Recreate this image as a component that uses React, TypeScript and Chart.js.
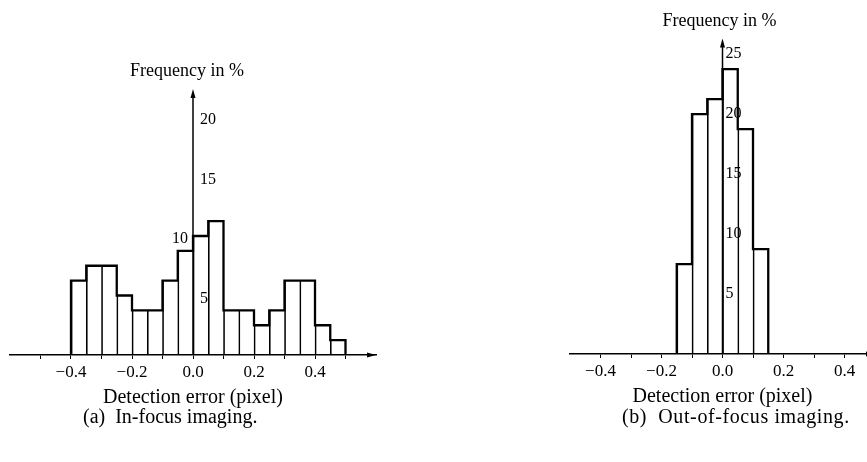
import React, { useEffect, useRef } from 'react';
import { Chart, registerables } from 'chart.js';

Chart.register(...registerables);

// ---------- data ----------
const BIN_WIDTH = 0.05;
const IN_FOCUS_START = -0.4;
const IN_FOCUS_VALUES = [6.25, 7.5, 7.5, 5, 3.75, 3.75, 6.25, 8.75, 10, 11.25, 3.75, 3.75, 2.5, 3.75, 6.25, 6.25, 2.5, 1.25];
const OUT_FOCUS_START = -0.15;
const OUT_FOCUS_VALUES = [7.5, 20, 21.25, 23.75, 18.75, 8.75];
const X_TICK_LABELS = [-0.4, -0.2, 0, 0.2, 0.4];
const IN_FOCUS_Y_TICKS = [5, 10, 15, 20];
const IN_FOCUS_Y_TICKS_LEFT = [10];
const OUT_FOCUS_Y_TICKS = [5, 10, 15, 20, 25];
const OUT_FOCUS_Y_TICKS_LEFT: number[] = [];
const Y_TITLE = 'Frequency in %';
const X_TITLE = 'Detection error (pixel)';
const CAPTION_A = '(a)\u00a0\u00a0In-focus imaging.';
const CAPTION_B = '(b)\u00a0\u00a0Out-of-focus imaging.';

const FONT = 'Liberation Serif';

const fmt = (v: number) => {
  const s = Math.abs(v).toFixed(1);
  return v < -1e-9 ? '\u2212' + s : s;
};

const axesPlugin = {
  id: 'histAxes',
  afterDatasetsDraw(chart: any, _args: any, o: any) {
    const { ctx, chartArea, scales } = chart;
    const x = scales.x;
    const y = scales.y;
    const x0 = x.getPixelForValue(0);
    const yBase = y.getPixelForValue(0);
    const yTop = chartArea.top;
    ctx.save();
    ctx.strokeStyle = '#000';
    ctx.fillStyle = '#000';
    ctx.lineWidth = 1.5;
    ctx.beginPath();
    ctx.moveTo(x0, yBase);
    ctx.lineTo(x0, yTop + 6);
    ctx.stroke();
    ctx.beginPath();
    ctx.moveTo(x0, yTop);
    ctx.lineTo(x0 - 2.5, yTop + 9);
    ctx.lineTo(x0 + 2.5, yTop + 9);
    ctx.closePath();
    ctx.fill();
    const xr = chartArea.right;
    ctx.beginPath();
    ctx.moveTo(xr, yBase);
    ctx.lineTo(xr - 9, yBase - 2.5);
    ctx.lineTo(xr - 9, yBase + 2.5);
    ctx.closePath();
    ctx.fill();

    ctx.font = `16px "${FONT}"`;
    ctx.textBaseline = 'middle';
    for (const v of o.ticks as number[]) {
      const py = y.getPixelForValue(v) + o.labelDy;
      if ((o.leftTicks as number[]).includes(v)) {
        ctx.textAlign = 'right';
        ctx.fillText(String(v), x0 - 5, py);
      } else {
        ctx.textAlign = 'left';
        ctx.fillText(String(v), x0 + o.gap, py);
      }
    }
    ctx.font = `18px "${FONT}"`;
    ctx.textAlign = 'center';
    ctx.textBaseline = 'alphabetic';
    ctx.fillText(Y_TITLE, x0 + o.titleDx, yTop - 13);
    ctx.restore();
  },
};

function buildConfig(p: {
  start: number;
  values: number[];
  xMin: number;
  xMax: number;
  yMax: number;
  yTicks: number[];
  leftTicks: number[];
  padding: { left: number; right: number; top: number; bottom: number };
  gap: number;
  labelDy: number;
  titleDx: number;
}) {
  const bars = p.values.map((v, i) => ({ x: p.start + (i + 0.5) * BIN_WIDTH, y: v }));
  const outline: { x: number; y: number }[] = [{ x: p.start, y: 0 }];
  p.values.forEach((v, i) => {
    outline.push({ x: p.start + i * BIN_WIDTH, y: v });
    outline.push({ x: p.start + (i + 1) * BIN_WIDTH, y: v });
  });
  outline.push({ x: p.start + p.values.length * BIN_WIDTH, y: 0 });

  const isEdge = (v: number) => Math.abs(v - p.xMin) < 1e-6 || Math.abs(v - p.xMax) < 1e-6;

  return {
    type: 'bar' as const,
    data: {
      datasets: [
        {
          type: 'line' as const,
          data: outline,
          borderColor: '#000',
          borderWidth: 2.3,
          pointRadius: 0,
          fill: false,
          tension: 0,
          borderJoinStyle: 'miter' as const,
          order: 0,
        },
        {
          type: 'bar' as const,
          data: bars,
          backgroundColor: 'rgba(0,0,0,0)',
          borderColor: '#000',
          borderWidth: { left: 1, right: 0, top: 0, bottom: 0 },
          borderSkipped: false,
          barPercentage: 1,
          categoryPercentage: 1,
          order: 1,
        },
      ],
    },
    options: {
      responsive: false,
      animation: false as const,
      events: [],
      layout: { padding: p.padding },
      plugins: {
        legend: { display: false },
        tooltip: { enabled: false },
        histAxes: { ticks: p.yTicks, leftTicks: p.leftTicks, gap: p.gap, labelDy: p.labelDy, titleDx: p.titleDx },
      },
      scales: {
        x: {
          type: 'linear' as const,
          min: p.xMin,
          max: p.xMax,
          offset: false,
          grid: {
            display: true,
            offset: false,
            drawOnChartArea: false,
            drawTicks: true,
            tickLength: 4,
            lineWidth: 1,
            color: (c: any) => (c.tick && isEdge(c.tick.value) ? 'rgba(0,0,0,0)' : '#000'),
          },
          border: { display: true, color: '#000', width: 1.5 },
          ticks: {
            stepSize: 0.1,
            autoSkip: false,
            maxRotation: 0,
            padding: 3,
            color: '#000',
            font: { family: FONT, size: 17 },
            callback: (v: any) => {
              const n = Number(v);
              return X_TICK_LABELS.some((t) => Math.abs(t - n) < 1e-6) ? fmt(n) : '';
            },
          },
          title: {
            display: true,
            text: X_TITLE,
            color: '#000',
            font: { family: FONT, size: 20 },
            padding: { top: 0, bottom: 5 },
          },
          afterFit: (s: any) => {
            s.height = 60;
          },
        },
        y: {
          type: 'linear' as const,
          min: 0,
          max: p.yMax,
          display: false,
        },
      },
    },
    plugins: [axesPlugin],
  };
}

export default function App() {
  const leftRef = useRef<HTMLCanvasElement>(null);
  const rightRef = useRef<HTMLCanvasElement>(null);

  useEffect(() => {
    const charts: Chart[] = [];
    if (leftRef.current) {
      charts.push(
        new Chart(
          leftRef.current,
          buildConfig({
            start: IN_FOCUS_START,
            values: IN_FOCUS_VALUES,
            xMin: -0.6,
            xMax: 0.6,
            yMax: 22.35,
            yTicks: IN_FOCUS_Y_TICKS,
            leftTicks: IN_FOCUS_Y_TICKS_LEFT,
            padding: { left: 10, right: 24, top: 89, bottom: 47 },
            gap: 7,
            labelDy: 3,
            titleDx: -6,
          }) as any
        )
      );
    }
    if (rightRef.current) {
      charts.push(
        new Chart(
          rightRef.current,
          buildConfig({
            start: OUT_FOCUS_START,
            values: OUT_FOCUS_VALUES,
            xMin: -0.5,
            xMax: 0.5,
            yMax: 26.3,
            yTicks: OUT_FOCUS_Y_TICKS,
            leftTicks: OUT_FOCUS_Y_TICKS_LEFT,
            padding: { left: 10, right: 25, top: 38.5, bottom: 48 },
            gap: 3,
            labelDy: 0,
            titleDx: -3,
          }) as any
        )
      );
    }
    return () => charts.forEach((c) => c.destroy());
  }, []);

  const captionStyle: React.CSSProperties = {
    position: 'absolute',
    top: 406,
    fontFamily: FONT,
    fontSize: 20,
    lineHeight: '20px',
    color: '#000',
    whiteSpace: 'nowrap',
  };

  return (
    <div
      style={{
        position: 'fixed',
        left: 0,
        top: 0,
        width: 867,
        height: 462,
        overflow: 'hidden',
        background: '#fff',
      }}
    >
      <div style={{ position: 'absolute', left: 0, top: 0, width: 400, height: 462 }}>
        <canvas ref={leftRef} width={400} height={462} style={{ display: 'block' }} />
      </div>
      <div style={{ position: 'absolute', left: 560, top: 0, width: 340, height: 462 }}>
        <canvas ref={rightRef} width={340} height={462} style={{ display: 'block' }} />
      </div>
      <div style={{ ...captionStyle, left: 83 }}>{CAPTION_A}</div>
      <div style={{ ...captionStyle, left: 622, letterSpacing: '0.6px' }}>{CAPTION_B}</div>
    </div>
  );
}
